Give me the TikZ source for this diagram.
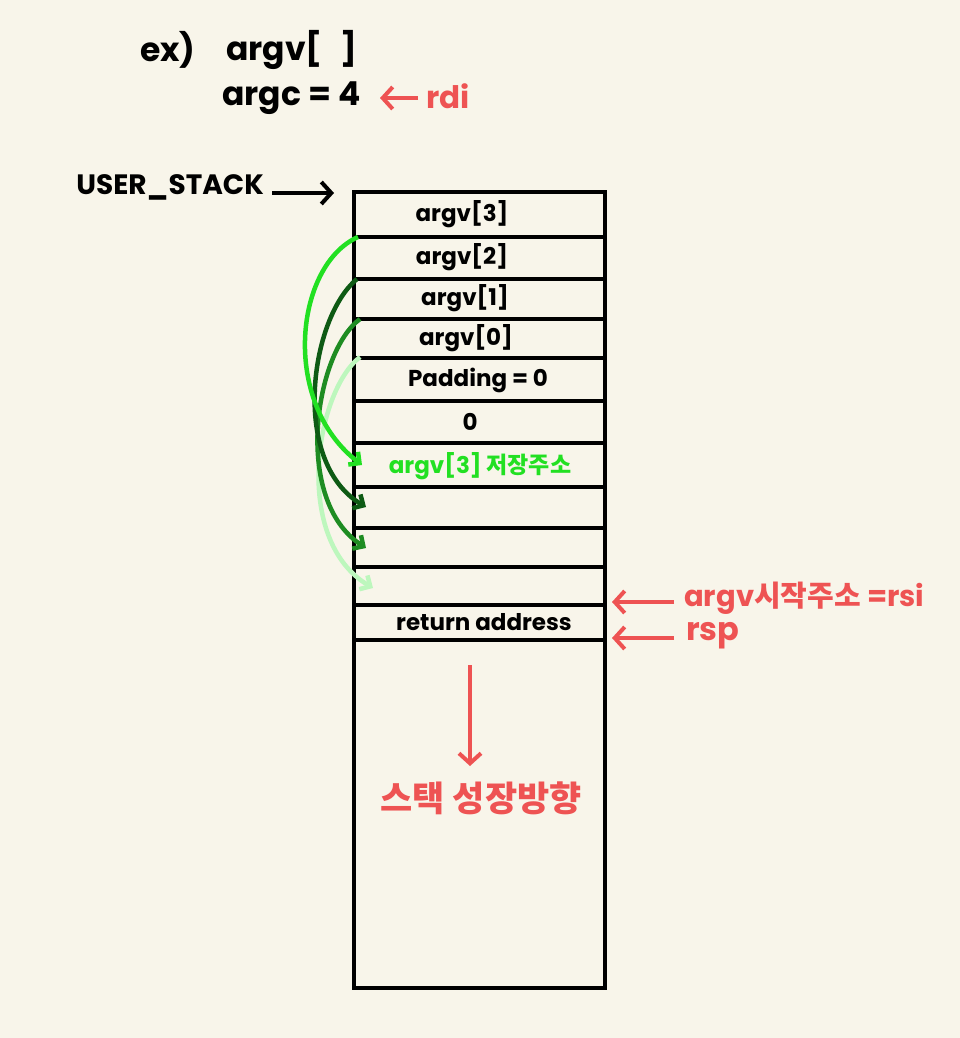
\documentclass[tikz,border=0pt]{standalone}
\usepackage{fontspec}
\setmainfont{Poppins}
\newfontfamily\kr{Noto Sans CJK KR}
\usetikzlibrary{arrows.meta}
\definecolor{bg}{HTML}{F8F5EA}
\definecolor{redc}{HTML}{EE5353}
\definecolor{g1}{HTML}{22E022}
\definecolor{g2}{HTML}{0E5A14}
\definecolor{g3}{HTML}{1E8C22}
\definecolor{g4}{HTML}{BDF7BD}
\begin{document}
\begin{tikzpicture}[x=1pt,y=-1pt,
  boxline/.style={line width=4.5pt,black},
  celltext/.style={font=\fontsize{23}{26}\selectfont\bfseries,inner sep=0pt},
  bigtext/.style={font=\fontsize{33}{36}\selectfont\bfseries,inner sep=0pt,anchor=west},
  redtext/.style={font=\fontsize{29}{34}\selectfont\bfseries,text=redc,inner sep=0pt,anchor=west},
  redarrow/.style={line width=4pt,redc,-{Straight Barb[length=10pt,width=22pt,line width=4pt]}},
  blackarrow/.style={line width=4pt,black,-{Straight Barb[length=10pt,width=22pt,line width=4pt]}},
  garrow/.style={line width=4.5pt,-{Straight Barb[length=8pt,width=16pt,line width=4.5pt]}}]
\fill[bg] (0,0) rectangle (960,1038);
\useasboundingbox (0,0) rectangle (960,1038);

% header
\node[bigtext] (ex) at (140,50) {ex)};
\node[bigtext] (argvh) at (226,50) {argv[\hspace{18pt}]};
\node[bigtext] (argc) at (222,98) {argc = 4};
\coordinate (rdiS) at (418,98);
\coordinate (rdiE) at (380,98);
\draw[redarrow] (rdiS) -- (rdiE);
\node[redtext,font=\fontsize{31}{36}\selectfont\bfseries] (rdi) at (426,96) {rdi};

% user stack label
\node[font=\fontsize{28}{32}\selectfont\bfseries,inner sep=0pt,anchor=east] (us) at (264,187) {USER\_STACK};
\coordinate (usS) at (272,193);
\coordinate (usE) at (334,193);
\draw[blackarrow] (usS) -- (usE);

% stack box
\draw[boxline] (354,192) rectangle (605,988);
\foreach \y in {237,279,319,358,401,443,487,528,567,605,640}
  \draw[boxline] (354,\y) -- (605,\y);

\node[celltext] (a3) at (462,214) {argv[3]};
\node[celltext] (a2) at (462,257) {argv[2]};
\node[celltext] (a1) at (465,298) {argv[1]};
\node[celltext] (a0) at (466,338) {argv[0]};
\node[celltext] (pad) at (478,380) {Padding = 0};
\node[celltext] (z) at (470,422) {0};
\node[celltext,text=g1] (p3) at (480,466) {argv[3] {\kr 저장주소}};
\node[celltext] (ret) at (484,622) {return address};

% pointer arrows
\coordinate (s1) at (358,237); \coordinate (e1) at (362,465);
\coordinate (s2) at (357,279); \coordinate (e2) at (366,507);
\coordinate (s3) at (360,319); \coordinate (e3) at (366,548);
\coordinate (s4) at (360,357); \coordinate (e4) at (373,588);
\draw[garrow,g4] (s4) .. controls (315,392) and (292,540) .. (e4);
\draw[garrow,g3] (s3) .. controls (315,352) and (292,500) .. (e3);
\draw[garrow,g2] (s2) .. controls (310,318) and (290,462) .. (e2);
\draw[garrow,g1] (s1) .. controls (295,265) and (280,402) .. (e1);

% right labels
\coordinate (rsiS) at (674,602); \coordinate (rsiE) at (612,602);
\draw[redarrow] (rsiS) -- (rsiE);
\node[redtext] (rsi) at (684,598) {argv{\kr 시작주소} =rsi};
\coordinate (rspS) at (674,638); \coordinate (rspE) at (612,638);
\draw[redarrow] (rspS) -- (rspE);
\node[redtext,font=\fontsize{32}{36}\selectfont\bfseries] (rsp) at (686,636) {rsp};

% growth direction
\coordinate (gS) at (470,665); \coordinate (gE) at (470,766);
\draw[redarrow] (gS) -- (gE);
\node[font=\fontsize{35}{38}\selectfont\kr\bfseries,text=redc,inner sep=0pt] (grow) at (481,798) {스택 성장방향};
\end{tikzpicture}
\end{document}
